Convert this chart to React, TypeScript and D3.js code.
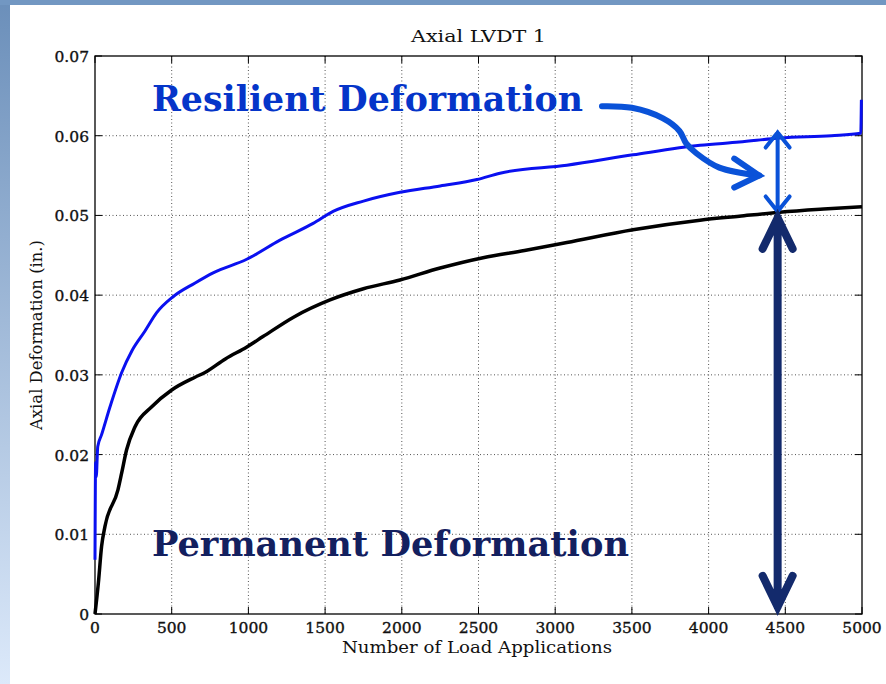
import { useEffect } from 'react'
import * as d3 from 'd3'

const WIDTH = 886
const HEIGHT = 684
const PLOT = { left: 95, right: 862, top: 56, bottom: 614 }

const X_TICKS = [0, 500, 1000, 1500, 2000, 2500, 3000, 3500, 4000, 4500, 5000]
const Y_TICKS = [0, 0.01, 0.02, 0.03, 0.04, 0.05, 0.06, 0.07]

// [load applications, axial deformation (in.)]
const TOTAL_DEFORMATION: [number, number][] = [
  [0, 0.0068], [4, 0.019], [8, 0.0172], [18, 0.021], [43, 0.0225], [98, 0.026],
  [174, 0.0303], [240, 0.033], [326, 0.0355], [402, 0.0378], [509, 0.0398],
  [650, 0.0415], [770, 0.0428], [989, 0.0445], [1206, 0.0469], [1422, 0.049],
  [1552, 0.0505], [1750, 0.0518], [1988, 0.0529], [2250, 0.0537], [2490, 0.0545],
  [2640, 0.0553], [3076, 0.0563], [3507, 0.0576], [3944, 0.0588], [4200, 0.0592],
  [4465, 0.0597], [4800, 0.06], [4992, 0.0603], [4996, 0.0645],
]
const PERMANENT_DEFORMATION: [number, number][] = [
  [0, 0], [22, 0.0039], [43, 0.0085], [65, 0.011], [150, 0.0156], [174, 0.0177],
  [206, 0.0206], [261, 0.0235], [370, 0.026], [500, 0.0281], [652, 0.0297],
  [717, 0.0303], [850, 0.032], [990, 0.0335], [1095, 0.0348], [1300, 0.0373],
  [1532, 0.0394], [1750, 0.0408], [1988, 0.0419], [2250, 0.0434], [2530, 0.0447],
  [2800, 0.0456], [3076, 0.0466], [3507, 0.0482], [3944, 0.0494], [4200, 0.0499],
  [4465, 0.0504], [4750, 0.0508], [5000, 0.0511],
]

// annotation anchors in data units
const ARROW_X = 4450
const RESILIENT_SPAN: [number, number] = [0.0604, 0.0505]
const PERMANENT_SPAN: [number, number] = [0.0497, 0.0009]
const CURVED_ARROW: [number, number][] = [
  [3305, 0.0637], [3500, 0.0635], [3700, 0.0622], [3810, 0.0606],
  [3855, 0.059], [3920, 0.0578], [4070, 0.056], [4330, 0.055],
]

export default function App() {
  useEffect(() => {
    document.body.style.margin = '0'
  }, [])

  const x = d3.scaleLinear().domain([0, 5000]).range([PLOT.left, PLOT.right])
  const y = d3.scaleLinear().domain([0, 0.07]).range([PLOT.bottom, PLOT.top])

  const line = d3
    .line<[number, number]>()
    .x((d) => x(d[0]))
    .y((d) => y(d[1]))
    .curve(d3.curveMonotoneX)

  const curved = d3
    .line<[number, number]>()
    .x((d) => x(d[0]))
    .y((d) => y(d[1]))
    .curve(d3.curveCatmullRom.alpha(0.5))

  const ax = x(ARROW_X)
  const tip = CURVED_ARROW[CURVED_ARROW.length - 1]
  const tx = x(tip[0])
  const ty = y(tip[1])

  const doubleArrow = (top: number, bottom: number, wing: number, drop: number) =>
    `M${ax},${top}L${ax},${bottom}` +
    `M${ax - wing},${top + drop}L${ax},${top}L${ax + wing},${top + drop}` +
    `M${ax - wing},${bottom - drop}L${ax},${bottom}L${ax + wing},${bottom - drop}`

  return (
    <svg width={WIDTH} height={HEIGHT} style={{ display: 'block' }}>
      <defs>
        <linearGradient id="frame" x1="0" x2="0" y1="0" y2="1">
          <stop offset="0%" stopColor="#6b8fba" />
          <stop offset="100%" stopColor="#dce9fa" />
        </linearGradient>
      </defs>
      <rect width={WIDTH} height={HEIGHT} fill="#ffffff" />
      <rect width={10} height={HEIGHT} fill="url(#frame)" />
      <rect width={WIDTH} height={5} fill="#7297c2" />

      {/* grid */}
      <g stroke="#555" strokeWidth={1} strokeDasharray="1,2.5">
        {X_TICKS.slice(1, -1).map((t) => (
          <line key={t} x1={x(t)} x2={x(t)} y1={PLOT.top} y2={PLOT.bottom} />
        ))}
        {Y_TICKS.slice(1, -1).map((t) => (
          <line key={t} x1={PLOT.left} x2={PLOT.right} y1={y(t)} y2={y(t)} />
        ))}
      </g>

      {/* ticks */}
      <g stroke="#000" strokeWidth={1}>
        {X_TICKS.map((t) => (
          <g key={t}>
            <line x1={x(t)} x2={x(t)} y1={PLOT.bottom} y2={PLOT.bottom - 7} />
            <line x1={x(t)} x2={x(t)} y1={PLOT.top} y2={PLOT.top + 7} />
          </g>
        ))}
        {Y_TICKS.map((t) => (
          <g key={t}>
            <line x1={PLOT.left} x2={PLOT.left + 7} y1={y(t)} y2={y(t)} />
            <line x1={PLOT.right} x2={PLOT.right - 7} y1={y(t)} y2={y(t)} />
          </g>
        ))}
      </g>

      <rect
        x={PLOT.left}
        y={PLOT.top}
        width={PLOT.right - PLOT.left}
        height={PLOT.bottom - PLOT.top}
        fill="none"
        stroke="#000"
        strokeWidth={1.3}
      />

      {/* tick labels */}
      <g fontFamily="DejaVu Serif" fontSize={15.5} fill="#111" stroke="#111" strokeWidth={0.35}>
        {X_TICKS.map((t) => (
          <text key={t} x={x(t)} y={633} textAnchor="middle">
            {t}
          </text>
        ))}
        {Y_TICKS.map((t) => (
          <text key={t} x={PLOT.left - 6} y={y(t) + 6} textAnchor="end">
            {t === 0 ? '0' : t.toFixed(2)}
          </text>
        ))}
      </g>

      <text
        x={(PLOT.left + PLOT.right) / 2}
        y={42}
        textAnchor="middle"
        fontFamily="DejaVu Serif"
        fontSize={16}
        textLength={135}
        lengthAdjust="spacingAndGlyphs"
        fill="#111"
      >
        Axial LVDT 1
      </text>
      <text
        x={477}
        y={653}
        textAnchor="middle"
        fontFamily="DejaVu Serif"
        fontSize={17}
        textLength={270}
        lengthAdjust="spacingAndGlyphs"
        fill="#111"
      >
        Number of Load Applications
      </text>
      <text
        transform={`translate(42 335) rotate(-90)`}
        textAnchor="middle"
        fontFamily="DejaVu Serif"
        fontSize={16}
        textLength={190}
        lengthAdjust="spacingAndGlyphs"
        fill="#111"
      >
        Axial Deformation (in.)
      </text>

      {/* data */}
      <path d={line(PERMANENT_DEFORMATION) ?? undefined} fill="none" stroke="#000" strokeWidth={3.5} strokeLinejoin="round" />
      <path d={line(TOTAL_DEFORMATION) ?? undefined} fill="none" stroke="#0a10f0" strokeWidth={3} strokeLinejoin="round" />

      {/* annotations */}
      <text
        x={152}
        y={111}
        fontFamily="DejaVu Serif"
        fontWeight="bold"
        fontSize={36}
        textLength={431}
        lengthAdjust="spacingAndGlyphs"
        fill="#0535c9"
      >
        Resilient Deformation
      </text>
      <text
        x={152}
        y={556}
        fontFamily="DejaVu Serif"
        fontWeight="bold"
        fontSize={36}
        textLength={477}
        lengthAdjust="spacingAndGlyphs"
        fill="#13205f"
      >
        Permanent Deformation
      </text>

      <path
        d={curved(CURVED_ARROW) ?? undefined}
        fill="none"
        stroke="#0a52d8"
        strokeWidth={6}
        strokeLinecap="round"
      />
      <path
        d={`M${tx - 25},${ty - 17}L${tx},${ty}L${tx - 25},${ty + 12}`}
        fill="none"
        stroke="#0a52d8"
        strokeWidth={6}
        strokeLinecap="round"
        strokeLinejoin="miter"
      />
      <path
        d={doubleArrow(y(RESILIENT_SPAN[0]), y(RESILIENT_SPAN[1]), 12, 15)}
        fill="none"
        stroke="#0a52d8"
        strokeWidth={4}
        strokeLinecap="round"
      />
      <path
        d={doubleArrow(y(PERMANENT_SPAN[0]), y(PERMANENT_SPAN[1]), 15, 31)}
        fill="none"
        stroke="#132a6c"
        strokeWidth={8}
        strokeLinecap="round"
      />
    </svg>
  )
}
